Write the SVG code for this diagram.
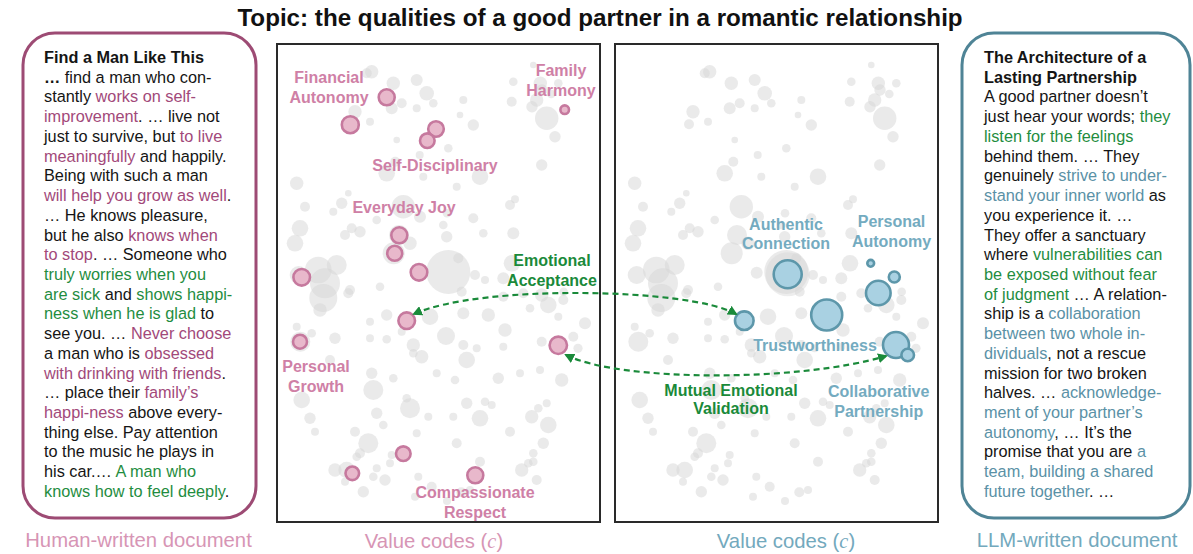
<svg xmlns="http://www.w3.org/2000/svg" xmlns:xlink="http://www.w3.org/1999/xlink" width="1193" height="554" viewBox="0 0 1193 554">
<style>
.title{font-family:"Liberation Sans",Arial,sans-serif;font-weight:bold;font-size:24.2px;fill:#111}
.doc{font-family:"Liberation Sans",Arial,sans-serif;font-size:16.3px;fill:#151515}
.b{font-weight:bold}
.hp{fill:#a2497a}
.hg{fill:#1f8d3f}
.hb{fill:#5a91a6}
.lp{font-family:"Liberation Sans",Arial,sans-serif;font-weight:bold;font-size:16px;fill:#cf80a6;text-anchor:middle}
.lb{font-family:"Liberation Sans",Arial,sans-serif;font-weight:bold;font-size:16px;fill:#74abc0;text-anchor:middle}
.lg{font-family:"Liberation Sans",Arial,sans-serif;font-weight:bold;font-size:16px;fill:#1a8a3a;text-anchor:middle}
.cap{font-family:"Liberation Sans",Arial,sans-serif;font-size:20.3px;text-anchor:middle}
.capp{fill:#d795b5}
.capb{fill:#73a9bd}
.panel{fill:#fff;stroke:#2a2a2a;stroke-width:2}
.pn{fill:#e8b8cb;stroke:#c6799e;stroke-width:2.6}
.bn{fill:#a9d1e2;stroke:#5d97aa;stroke-width:2.6}
.sc circle{fill:#d6d6d6;fill-opacity:0.5}
.arr{fill:none;stroke:#1a8a3a;stroke-width:2.2;stroke-dasharray:6 4}
</style>
<defs>
<marker id="ah" viewBox="0 0 10 10" refX="8" refY="5" markerWidth="4.5" markerHeight="4.5" orient="auto-start-reverse">
<path d="M0,0 L10,5 L0,10 z" fill="#1a8a3a"/>
</marker>
<g id="scatter" class="sc">
<circle cx="371.7" cy="71.7" r="6.7"/><circle cx="366.7" cy="73.3" r="5"/><circle cx="393.3" cy="83.3" r="6.7"/>
<circle cx="416.7" cy="80" r="6"/><circle cx="426.7" cy="93.3" r="7.3"/><circle cx="401.7" cy="103.3" r="5"/>
<circle cx="416.7" cy="108.3" r="4"/><circle cx="433.3" cy="103.3" r="4.3"/><circle cx="463.3" cy="100" r="4"/>
<circle cx="460" cy="115" r="3.3"/><circle cx="473.3" cy="125" r="5.7"/><circle cx="448.3" cy="148.3" r="4.3"/>
<circle cx="396.7" cy="140" r="3.3"/><circle cx="370" cy="121.7" r="4"/><circle cx="355" cy="111.7" r="6.7"/>
<circle cx="391.7" cy="108.3" r="6"/><circle cx="513.3" cy="81.7" r="4.3"/><circle cx="533.3" cy="65" r="3.3"/>
<circle cx="511.7" cy="101.7" r="5"/><circle cx="536.7" cy="100" r="6.7"/><circle cx="546.7" cy="118.3" r="11.7"/>
<circle cx="555" cy="136.7" r="5.7"/><circle cx="558.3" cy="83.3" r="4.3"/><circle cx="541.7" cy="165" r="5.7"/>
<circle cx="480" cy="176.7" r="8.3"/><circle cx="456.7" cy="186.7" r="4"/><circle cx="423.3" cy="176.7" r="4"/>
<circle cx="386.7" cy="173.3" r="8.3"/><circle cx="296.7" cy="183.3" r="6.7"/><circle cx="348.3" cy="193.3" r="3.3"/>
<circle cx="341.7" cy="203.3" r="5.7"/><circle cx="305" cy="206.7" r="5"/><circle cx="333.3" cy="211.7" r="4"/>
<circle cx="403.3" cy="206.7" r="11.7"/><circle cx="420" cy="216.7" r="6"/><circle cx="376.7" cy="220" r="4.3"/>
<circle cx="473.3" cy="218.3" r="5"/><circle cx="510" cy="205" r="5"/><circle cx="515" cy="199.3" r="4"/>
<circle cx="300" cy="228.3" r="8.3"/><circle cx="351.7" cy="228.3" r="5"/><circle cx="360" cy="231.7" r="5.7"/>
<circle cx="345" cy="235" r="5"/><circle cx="410" cy="243.3" r="6.7"/><circle cx="443.3" cy="225" r="4.3"/>
<circle cx="446.7" cy="236.7" r="5.7"/><circle cx="483.3" cy="233.3" r="4.3"/><circle cx="513.3" cy="233.3" r="6"/>
<circle cx="295" cy="243.3" r="8.3"/><circle cx="336.7" cy="265" r="10"/><circle cx="318.3" cy="270" r="13.3"/>
<circle cx="325" cy="283.3" r="15"/><circle cx="448.3" cy="272" r="22"/><circle cx="458.3" cy="258.3" r="5"/>
<circle cx="475" cy="275" r="5"/><circle cx="485" cy="280" r="4"/><circle cx="380" cy="286.7" r="4.3"/>
<circle cx="350" cy="290" r="5"/><circle cx="503.3" cy="278.3" r="6"/><circle cx="461.7" cy="291.7" r="5"/>
<circle cx="323.3" cy="298" r="14"/><circle cx="320" cy="310" r="6.7"/><circle cx="348.3" cy="293.3" r="5"/>
<circle cx="370" cy="321.7" r="4"/><circle cx="386.7" cy="315" r="5.7"/><circle cx="430" cy="316.7" r="8.3"/>
<circle cx="463.3" cy="313.3" r="6"/><circle cx="488.3" cy="315" r="6.7"/><circle cx="503.3" cy="296.7" r="5"/>
<circle cx="523.3" cy="293.3" r="5"/><circle cx="541.7" cy="295" r="6.7"/><circle cx="548.3" cy="305" r="8.3"/>
<circle cx="563.3" cy="300" r="5"/><circle cx="530" cy="308.3" r="4.3"/><circle cx="558.3" cy="316.7" r="4"/>
<circle cx="585" cy="323.3" r="6"/><circle cx="296.7" cy="326.7" r="4"/><circle cx="311.7" cy="333.3" r="4.3"/>
<circle cx="335" cy="338.3" r="5.7"/><circle cx="370" cy="338.3" r="4"/><circle cx="386.7" cy="339.3" r="4.3"/>
<circle cx="401.7" cy="331.7" r="4"/><circle cx="446" cy="336" r="9"/><circle cx="413.3" cy="345" r="6.7"/>
<circle cx="421.7" cy="356.7" r="6.7"/><circle cx="413.3" cy="353.3" r="4.3"/><circle cx="463.3" cy="345" r="5"/>
<circle cx="466.7" cy="360" r="8.3"/><circle cx="476.7" cy="348.3" r="4"/><circle cx="503.3" cy="346.7" r="4"/>
<circle cx="505" cy="330" r="6.7"/><circle cx="541.7" cy="341.7" r="5"/><circle cx="573.3" cy="336.7" r="5"/>
<circle cx="578" cy="348.3" r="4.6"/><circle cx="301.7" cy="400" r="8.3"/><circle cx="330" cy="360" r="5"/>
<circle cx="371.7" cy="373.3" r="5.7"/><circle cx="373.3" cy="390" r="10"/><circle cx="393.3" cy="378.3" r="4.3"/>
<circle cx="436.7" cy="373.3" r="4"/><circle cx="455" cy="380" r="4.3"/><circle cx="498.3" cy="378.3" r="5.7"/>
<circle cx="520" cy="373.3" r="4"/><circle cx="540" cy="370" r="4"/><circle cx="561.7" cy="380" r="6.7"/>
<circle cx="406.7" cy="398.3" r="4.3"/><circle cx="410" cy="408.3" r="10"/><circle cx="376.7" cy="413.3" r="5.7"/>
<circle cx="466.7" cy="403.3" r="5.7"/><circle cx="485" cy="401.7" r="4.3"/><circle cx="491.7" cy="405" r="4"/>
<circle cx="480" cy="418.3" r="8.3"/><circle cx="453.3" cy="416.7" r="4"/><circle cx="428.3" cy="416.7" r="4"/>
<circle cx="310" cy="418.3" r="5.7"/><circle cx="315" cy="431.7" r="4"/><circle cx="355" cy="431.7" r="5"/>
<circle cx="383.3" cy="425" r="4.3"/><circle cx="538.3" cy="408.3" r="4.3"/><circle cx="546.7" cy="403.3" r="4"/>
<circle cx="531.7" cy="416.7" r="6.7"/><circle cx="548.3" cy="425" r="8.3"/><circle cx="510" cy="431.7" r="5"/>
<circle cx="543.3" cy="443.3" r="5.7"/><circle cx="368.3" cy="443.3" r="10"/><circle cx="416.7" cy="433.3" r="4"/>
<circle cx="456.7" cy="443.3" r="5"/><circle cx="360" cy="453.3" r="5"/><circle cx="356.7" cy="456.7" r="4.3"/>
<circle cx="391.7" cy="455" r="4"/><circle cx="390" cy="463.3" r="4"/><circle cx="335" cy="470" r="6.7"/>
<circle cx="346.7" cy="470" r="8.3"/><circle cx="376.7" cy="468.3" r="4"/><circle cx="373.3" cy="476.7" r="4.3"/>
<circle cx="385" cy="480" r="5.7"/><circle cx="363.3" cy="491.7" r="5.7"/><circle cx="345" cy="481.7" r="4"/>
<circle cx="418.3" cy="476.7" r="4"/><circle cx="431.7" cy="486.7" r="5"/><circle cx="480" cy="461.7" r="5"/>
<circle cx="521.7" cy="470" r="6.7"/><circle cx="528.3" cy="463.3" r="4.3"/><circle cx="533.3" cy="461.7" r="4.3"/>
<circle cx="533.3" cy="453.3" r="4.3"/><circle cx="536.7" cy="480" r="5"/><circle cx="470" cy="490" r="4"/>
<circle cx="415" cy="496.7" r="4"/><circle cx="351" cy="124.3" r="5"/><circle cx="395.3" cy="161.7" r="5"/>
<circle cx="419.7" cy="155" r="4"/><circle cx="540.3" cy="83.3" r="6.7"/><circle cx="542" cy="90" r="5.7"/>
<circle cx="532" cy="106.7" r="5.7"/><circle cx="551.3" cy="94" r="4.3"/><circle cx="447" cy="213.3" r="4.3"/>
<circle cx="393.7" cy="253.3" r="11"/><circle cx="399" cy="235" r="10"/><circle cx="298.7" cy="275" r="9"/>
<circle cx="418.7" cy="272.7" r="6"/><circle cx="512" cy="263.3" r="8.3"/><circle cx="563.7" cy="291.7" r="4.3"/>
<circle cx="300.3" cy="341.7" r="10"/><circle cx="447" cy="501" r="4"/><circle cx="461.3" cy="492.3" r="5"/>
</g>
</defs>

<rect width="1193" height="554" fill="#fff"/>
<text class="title" x="600" y="26" text-anchor="middle">Topic: the qualities of a good partner in a romantic relationship</text>

<g id="human-doc">
<rect x="23" y="33" width="233" height="485" rx="32" fill="#fff" stroke="#9d4b74" stroke-width="3"/>
<text class="doc">
<tspan x="44" y="63" class="b">Find a Man Like This</tspan>
<tspan x="44" y="82.7"><tspan class="b">…</tspan> find a man who con-</tspan>
<tspan x="44" y="102.4">stantly <tspan class="hp">works on self-</tspan></tspan>
<tspan x="44" y="122.2"><tspan class="hp">improvement</tspan>. … live not</tspan>
<tspan x="44" y="141.9">just to survive, but <tspan class="hp">to live</tspan></tspan>
<tspan x="44" y="161.6"><tspan class="hp">meaningfully</tspan> and happily.</tspan>
<tspan x="44" y="181.3">Being with such a man</tspan>
<tspan x="44" y="201"><tspan class="hp">will help you grow as well</tspan>.</tspan>
<tspan x="44" y="220.8">… He knows pleasure,</tspan>
<tspan x="44" y="240.5">but he also <tspan class="hp">knows when</tspan></tspan>
<tspan x="44" y="260.2"><tspan class="hp">to stop</tspan>. … Someone who</tspan>
<tspan x="44" y="279.9" class="hg">truly worries when you</tspan>
<tspan x="44" y="299.6"><tspan class="hg">are sick</tspan> and <tspan class="hg">shows happi-</tspan></tspan>
<tspan x="44" y="319.4"><tspan class="hg">ness when he is glad</tspan> to</tspan>
<tspan x="44" y="339.1">see you. … <tspan class="hp">Never choose</tspan></tspan>
<tspan x="44" y="358.8">a man who is <tspan class="hp">obsessed</tspan></tspan>
<tspan x="44" y="378.5"><tspan class="hp">with drinking with friends</tspan>.</tspan>
<tspan x="44" y="398.2">… place their <tspan class="hp">family’s</tspan></tspan>
<tspan x="44" y="418"><tspan class="hp">happi-ness</tspan> above every-</tspan>
<tspan x="44" y="437.7">thing else. Pay attention</tspan>
<tspan x="44" y="457.4">to the music he plays in</tspan>
<tspan x="44" y="477.1">his car.… <tspan class="hg">A man who</tspan></tspan>
<tspan x="44" y="496.8"><tspan class="hg">knows how to feel deeply</tspan>.</tspan>
</text>
<text class="cap capp" x="138.5" y="547">Human-written document</text>
</g>

<g id="llm-doc">
<rect x="962" y="33" width="228" height="485" rx="32" fill="#fff" stroke="#4f8496" stroke-width="3"/>
<text class="doc">
<tspan x="984" y="63" class="b">The Architecture of a</tspan>
<tspan x="984" y="82.7" class="b">Lasting Partnership</tspan>
<tspan x="984" y="102.4">A good partner doesn’t</tspan>
<tspan x="984" y="122.2">just hear your words; <tspan class="hg">they</tspan></tspan>
<tspan x="984" y="141.9" class="hg">listen for the feelings</tspan>
<tspan x="984" y="161.6">behind them. … They</tspan>
<tspan x="984" y="181.3">genuinely <tspan class="hb">strive to under-</tspan></tspan>
<tspan x="984" y="201"><tspan class="hb">stand your inner world</tspan> as</tspan>
<tspan x="984" y="220.8">you experience it. …</tspan>
<tspan x="984" y="240.5">They offer a sanctuary</tspan>
<tspan x="984" y="260.2">where <tspan class="hg">vulnerabilities can</tspan></tspan>
<tspan x="984" y="279.9" class="hg">be exposed without fear</tspan>
<tspan x="984" y="299.6"><tspan class="hg">of judgment</tspan> … A relation-</tspan>
<tspan x="984" y="319.4">ship is a <tspan class="hb">collaboration</tspan></tspan>
<tspan x="984" y="339.1" class="hb">between two whole in-</tspan>
<tspan x="984" y="358.8"><tspan class="hb">dividuals</tspan>, not a rescue</tspan>
<tspan x="984" y="378.5">mission for two broken</tspan>
<tspan x="984" y="398.2">halves. … <tspan class="hb">acknowledge-</tspan></tspan>
<tspan x="984" y="418" class="hb">ment of your partner’s</tspan>
<tspan x="984" y="437.7"><tspan class="hb">autonomy</tspan>, … It’s the</tspan>
<tspan x="984" y="457.4">promise that you are <tspan class="hb">a</tspan></tspan>
<tspan x="984" y="477.1" class="hb">team, building a shared</tspan>
<tspan x="984" y="496.8"><tspan class="hb">future together</tspan>. …</tspan>
</text>
<text class="cap capb" x="1077" y="547">LLM-written document</text>
</g>

<g id="human-panel">
<rect class="panel" x="277" y="44" width="323" height="478"/>
<use xlink:href="#scatter" href="#scatter"/>
<text class="cap capp" x="434" y="548">Value codes (<tspan font-family="'Liberation Serif',serif" font-style="italic">c</tspan>)</text>
</g>
<g id="llm-panel">
<rect class="panel" x="615" y="44" width="323" height="478"/>
<use xlink:href="#scatter" href="#scatter" x="338"/>
<circle cx="787.7" cy="274.3" r="22" fill="#d6d6d6" fill-opacity="0.45"/>
<text class="cap capb" x="786" y="548">Value codes (<tspan font-family="'Liberation Serif',serif" font-style="italic">c</tspan>)</text>
</g>

<g id="financial-autonomy">
<circle class="pn" cx="386.7" cy="97.3" r="8"/>
<circle class="pn" cx="350.3" cy="124.7" r="8.5"/>
<text class="lp" x="329" y="82.5">Financial</text>
<text class="lp" x="329" y="102.5">Autonomy</text>
</g>
<g id="family-harmony">
<circle class="pn" cx="564.7" cy="109.7" r="4.3"/>
<text class="lp" x="561" y="76">Family</text>
<text class="lp" x="561" y="95.5">Harmony</text>
</g>
<g id="self-disciplinary">
<circle class="pn" cx="436" cy="129" r="7.8"/>
<circle class="pn" cx="427.3" cy="140.7" r="7.3"/>
<text class="lp" x="435" y="171">Self-Disciplinary</text>
</g>
<g id="everyday-joy">
<circle class="pn" cx="399.3" cy="235.3" r="8"/>
<circle class="pn" cx="394.7" cy="253.3" r="7.5"/>
<circle class="pn" cx="419" cy="272.3" r="8.3"/>
<text class="lp" x="404" y="213">Everyday Joy</text>
</g>
<g id="personal-growth">
<circle class="pn" cx="301.7" cy="277.3" r="8.3"/>
<circle class="pn" cx="300" cy="341.7" r="7"/>
<text class="lp" x="316" y="372">Personal</text>
<text class="lp" x="316" y="392">Growth</text>
</g>
<g id="human-emotional-a">
<circle class="pn" cx="406.7" cy="320.7" r="8.3"/>
</g>
<g id="human-emotional-b">
<circle class="pn" cx="558.3" cy="345.3" r="8.7"/>
</g>
<g id="compassionate-respect">
<circle class="pn" cx="403.3" cy="453.7" r="7.3"/>
<circle class="pn" cx="352.3" cy="473.3" r="6.8"/>
<circle class="pn" cx="475.3" cy="475.3" r="8"/>
<text class="lp" x="475" y="498">Compassionate</text>
<text class="lp" x="475" y="517.5">Respect</text>
</g>

<g id="authentic-connection">
<circle class="bn" cx="787.7" cy="274.3" r="14"/>
<text class="lb" x="786" y="229.5">Authentic</text>
<text class="lb" x="786" y="248.5">Connection</text>
</g>
<g id="personal-autonomy">
<circle class="bn" cx="870.7" cy="263.3" r="3.4"/>
<circle class="bn" cx="894.3" cy="277" r="5.5"/>
<circle class="bn" cx="878.3" cy="293" r="12.3"/>
<text class="lb" x="891.5" y="227">Personal</text>
<text class="lb" x="891.5" y="247">Autonomy</text>
</g>
<g id="trustworthiness">
<circle class="bn" cx="826.7" cy="315" r="15.5"/>
<circle class="bn" cx="744.3" cy="320.7" r="9.3"/>
<text class="lb" x="815" y="350.5">Trustworthiness</text>
</g>
<g id="collaborative-partnership">
<circle class="bn" cx="896" cy="345" r="13"/>
<circle class="bn" cx="907.7" cy="355" r="6.3"/>
<text class="lb" x="878.7" y="397">Collaborative</text>
<text class="lb" x="878.7" y="417">Partnership</text>
</g>

<g id="connectors">
<path class="arr" d="M736,314 C690,288 480,284 414,314" marker-start="url(#ah)" marker-end="url(#ah)"/>
<path class="arr" d="M566,355 C620,382 800,382 886,356" marker-start="url(#ah)" marker-end="url(#ah)"/>
<text class="lg" x="552" y="266">Emotional</text>
<text class="lg" x="552" y="285.5">Acceptance</text>
<text class="lg" x="731" y="395.5">Mutual Emotional</text>
<text class="lg" x="731" y="414">Validation</text>
</g>
</svg>
